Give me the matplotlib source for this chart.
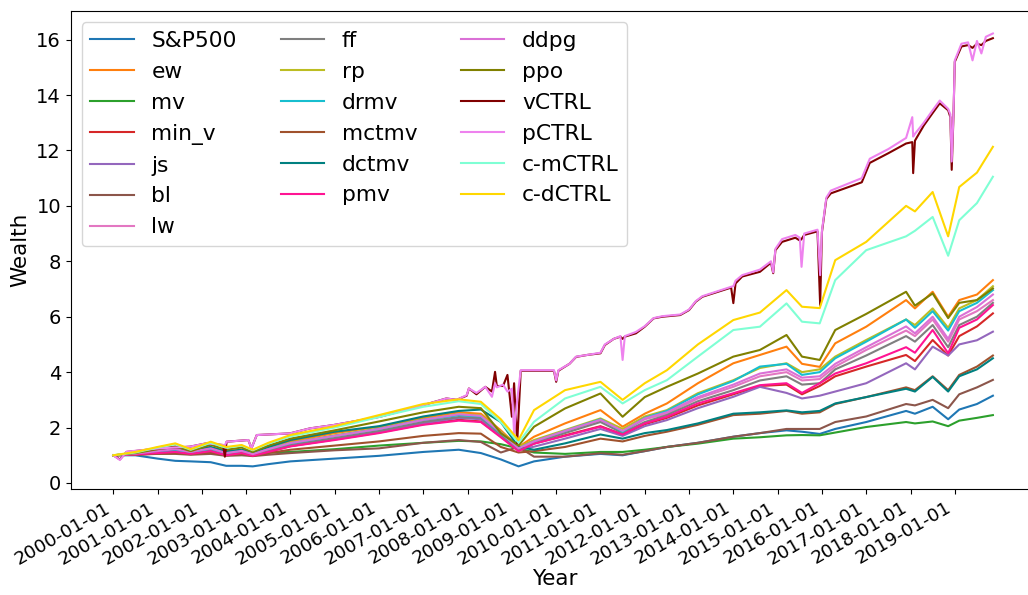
import matplotlib
matplotlib.use("Agg")
import matplotlib.pyplot as plt
import numpy as np

# x positions are in "tick units": tick i <-> label 2000+i-01-01
tick_labels = [f"{2000 + i}-01-01" for i in range(20)]

t_grid = [0, 0.5, 1.0, 1.4, 1.75, 2.2, 2.55, 2.9, 3.15, 3.5,
          4.0, 5.0, 6.0, 7.0, 7.8, 8.3, 8.75, 9.15, 9.5, 10.2,
          11.0, 11.5, 12.0, 12.5, 13.2, 14.0, 14.6, 15.2, 15.55, 15.95,
          16.3, 17.0, 17.9, 18.1, 18.5, 18.85, 19.1, 19.5, 19.86]

sp500 = [1.0, 1.0, 0.88, 0.8, 0.78, 0.75, 0.62, 0.62, 0.6, 0.68,
         0.78, 0.88, 0.98, 1.12, 1.2, 1.08, 0.85, 0.6, 0.78, 0.95,
         1.05, 1.0, 1.15, 1.3, 1.45, 1.67, 1.8, 1.9, 1.85, 1.77,
         1.95, 2.2, 2.6, 2.5, 2.75, 2.3, 2.65, 2.85, 3.15]
ew = [1.0, 1.05, 1.15, 1.22, 1.12, 1.28, 1.12, 1.2, 1.08, 1.28,
      1.5, 1.8, 2.03, 2.35, 2.55, 2.5, 1.9, 1.3, 1.67, 2.15,
      2.63, 2.03, 2.5, 2.87, 3.6, 4.32, 4.62, 4.92, 4.3, 4.19,
      5.04, 5.64, 6.6, 6.3, 6.9, 6.0, 6.6, 6.8, 7.32]
mv = [1.0, 1.03, 1.08, 1.1, 1.08, 1.12, 1.05, 1.08, 1.05, 1.1,
      1.12, 1.22, 1.35, 1.45, 1.52, 1.5, 1.4, 1.25, 1.1, 1.05,
      1.12, 1.12, 1.2, 1.3, 1.42, 1.6, 1.65, 1.72, 1.73, 1.72,
      1.82, 2.02, 2.2, 2.15, 2.22, 2.05, 2.25, 2.35, 2.45]
min_v = [1.0, 1.03, 1.1, 1.13, 1.06, 1.16, 1.02, 1.1, 1.0, 1.13,
         1.33, 1.57, 1.82, 2.12, 2.28, 2.22, 1.68, 1.18, 1.42, 1.72,
         2.05, 1.75, 2.12, 2.35, 2.8, 3.2, 3.5, 3.55, 3.2, 3.5,
         3.85, 4.2, 4.62, 4.4, 5.16, 4.6, 5.3, 5.65, 6.12]
js = [1.0, 1.05, 1.1, 1.15, 1.07, 1.18, 1.03, 1.1, 1.0, 1.15,
      1.35, 1.6, 1.85, 2.15, 2.35, 2.3, 1.7, 1.2, 1.31, 1.6,
      1.95, 1.7, 2.05, 2.27, 2.7, 3.11, 3.47, 3.25, 3.05, 3.15,
      3.3, 3.6, 4.32, 4.1, 4.92, 4.6, 5.0, 5.15, 5.46]
bl = [1.0, 1.02, 1.05, 1.05, 1.02, 1.05, 0.98, 1.0, 0.97, 1.02,
      1.08, 1.18, 1.25, 1.45, 1.55, 1.48, 1.1, 1.3, 0.95, 0.95,
      1.07, 1.02, 1.15, 1.3, 1.45, 1.67, 1.8, 1.95, 1.95, 1.95,
      2.2, 2.4, 2.85, 2.8, 3.0, 2.7, 3.2, 3.45, 3.72]
lw = [1.0, 1.06, 1.14, 1.2, 1.1, 1.22, 1.05, 1.15, 1.02, 1.2,
      1.42, 1.68, 1.93, 2.25, 2.45, 2.4, 1.8, 1.22, 1.48, 1.85,
      2.25, 1.85, 2.3, 2.5, 3.05, 3.47, 3.85, 4.0, 3.7, 3.75,
      4.2, 4.8, 5.5, 5.3, 5.9, 5.1, 5.9, 6.2, 6.6]
ff = [1.0, 1.04, 1.1, 1.16, 1.08, 1.2, 1.05, 1.12, 1.02, 1.18,
      1.38, 1.62, 1.88, 2.2, 2.38, 2.35, 1.75, 1.2, 1.45, 1.8,
      2.2, 1.8, 2.2, 2.45, 2.95, 3.35, 3.7, 3.85, 3.55, 3.6,
      4.1, 4.6, 5.3, 5.1, 5.7, 4.9, 5.7, 6.0, 6.5]
rp = [1.0, 1.04, 1.12, 1.2, 1.12, 1.25, 1.1, 1.18, 1.06, 1.25,
      1.45, 1.72, 1.97, 2.3, 2.48, 2.45, 1.85, 1.3, 1.55, 1.91,
      2.33, 1.95, 2.4, 2.63, 3.24, 3.71, 4.15, 4.32, 4.0, 4.1,
      4.56, 5.16, 5.9, 5.7, 6.3, 5.6, 6.3, 6.6, 7.1]
drmv = [1.0, 1.04, 1.12, 1.18, 1.1, 1.23, 1.08, 1.16, 1.05, 1.23,
        1.43, 1.7, 1.95, 2.28, 2.45, 2.4, 1.8, 1.25, 1.5, 1.88,
        2.3, 1.85, 2.35, 2.6, 3.2, 3.68, 4.2, 4.3, 3.9, 4.0,
        4.5, 5.1, 5.9, 5.6, 6.2, 5.5, 6.2, 6.5, 6.96]
mctmv = [1.0, 1.02, 1.06, 1.08, 1.04, 1.1, 1.0, 1.05, 0.98, 1.08,
         1.2, 1.35, 1.5, 1.7, 1.8, 1.78, 1.3, 1.1, 1.15, 1.3,
         1.6, 1.5, 1.7, 1.85, 2.1, 2.45, 2.5, 2.6, 2.5, 2.55,
         2.85, 3.1, 3.45, 3.35, 3.85, 3.35, 3.9, 4.2, 4.6]
dctmv = [1.0, 1.05, 1.15, 1.22, 1.2, 1.3, 1.15, 1.2, 1.12, 1.3,
         1.55, 1.85, 2.05, 2.4, 2.6, 2.65, 2.2, 1.3, 1.2, 1.43,
         1.75, 1.6, 1.8, 1.91, 2.15, 2.5, 2.55, 2.62, 2.55, 2.6,
         2.87, 3.1, 3.4, 3.3, 3.83, 3.3, 3.85, 4.1, 4.5]
pmv = [1.0, 1.03, 1.08, 1.12, 1.05, 1.15, 1.0, 1.08, 0.98, 1.12,
       1.32, 1.55, 1.8, 2.1, 2.25, 2.2, 1.65, 1.15, 1.42, 1.7,
       2.03, 1.75, 2.15, 2.39, 2.87, 3.24, 3.53, 3.6, 3.25, 3.6,
       3.95, 4.32, 4.9, 4.7, 5.52, 4.68, 5.6, 5.9, 6.42]
ddpg = [1.0, 1.06, 1.15, 1.22, 1.12, 1.25, 1.08, 1.16, 1.04, 1.22,
        1.44, 1.7, 1.95, 2.28, 2.48, 2.42, 1.82, 1.25, 1.5, 1.88,
        2.28, 1.88, 2.33, 2.55, 3.1, 3.55, 3.95, 4.1, 3.8, 3.85,
        4.3, 4.9, 5.65, 5.4, 6.0, 5.2, 6.0, 6.35, 6.8]
ppo = [1.0, 1.08, 1.22, 1.32, 1.15, 1.38, 1.2, 1.28, 1.12, 1.35,
       1.6, 1.9, 2.22, 2.55, 2.75, 2.7, 1.8, 1.35, 2.03, 2.69,
       3.23, 2.39, 3.1, 3.47, 3.95, 4.56, 4.8, 5.34, 4.56, 4.44,
       5.52, 6.1, 6.9, 6.4, 6.84, 5.95, 6.5, 6.6, 7.02]
c_mctrl = [1.0, 1.1, 1.28, 1.4, 1.2, 1.45, 1.27, 1.35, 1.18, 1.42,
           1.68, 2.0, 2.38, 2.75, 2.95, 2.85, 2.2, 1.45, 2.21, 3.05,
           3.47, 2.87, 3.35, 3.71, 4.56, 5.52, 5.64, 6.48, 5.82, 5.76,
           7.32, 8.4, 8.9, 9.1, 9.6, 8.2, 9.48, 10.1, 11.05]
c_dctrl = [1.0, 1.12, 1.3, 1.43, 1.22, 1.49, 1.3, 1.37, 1.2, 1.45,
           1.73, 2.05, 2.45, 2.85, 3.02, 2.93, 2.3, 1.55, 2.63, 3.35,
           3.65, 3.0, 3.6, 4.07, 5.0, 5.88, 6.15, 6.96, 6.36, 6.31,
           8.04, 8.7, 10.0, 9.8, 10.5, 8.9, 10.68, 11.2, 12.13]

# the two CTRL curves have their own (finer) time points
ctrl_t = [0, 0.15, 0.3, 1.05, 1.73, 2.1, 2.48, 2.52, 2.56, 3.05,
          3.12, 3.24, 3.99, 4.44, 4.97, 6.02, 7.0, 7.52, 7.75, 7.98,
          8.03, 8.2, 8.4, 8.55, 8.62, 8.66, 8.8, 8.9, 9.0, 9.05,
          9.12, 9.2, 9.95, 10.0, 10.05, 10.3, 10.45, 10.7, 11.0, 11.1,
          11.3, 11.45, 11.5, 11.55, 11.8, 12.0, 12.2, 12.4, 12.8, 13.0,
          13.15, 13.3, 13.95, 14.0, 14.05, 14.2, 14.6, 14.85, 14.9, 14.95,
          15.1, 15.4, 15.5, 15.54, 15.6, 15.9, 15.96, 16.0, 16.1, 16.2,
          16.9, 17.08, 17.5, 17.9, 18.04, 18.06, 18.1, 18.3, 18.5, 18.66,
          18.85, 18.9, 18.93, 18.97, 19.0, 19.15, 19.3, 19.4, 19.5, 19.6,
          19.7, 19.86]
vctrl = [1.0, 0.85, 1.12, 1.25, 1.31, 1.43, 1.37, 0.95, 1.49, 1.55,
         1.25, 1.73, 1.79, 1.97, 2.09, 2.39, 2.81, 3.05, 3.0, 3.15,
         3.41, 3.2, 3.47, 3.3, 4.01, 3.5, 3.5, 3.9, 2.39, 3.6,
         1.44, 4.05, 4.05, 3.65, 4.05, 4.3, 4.55, 4.62, 4.68, 4.98,
         5.2, 5.28, 5.2, 5.28, 5.4, 5.64, 5.94, 6.0, 6.06, 6.24,
         6.54, 6.72, 7.05, 6.49, 7.2, 7.45, 7.62, 7.95, 7.57, 8.4,
         8.7, 8.85, 8.75, 8.8, 8.95, 9.08, 6.42, 9.05, 10.25, 10.45,
         10.85, 11.55, 11.9, 12.25, 12.3, 11.18, 12.35, 12.9, 13.35, 13.7,
         13.45, 13.2, 11.3, 13.25, 15.2, 15.75, 15.8, 15.7, 15.85, 15.8,
         15.95, 16.05]
pctrl = [1.0, 0.83, 1.13, 1.25, 1.31, 1.43, 1.37, 1.37, 1.49, 1.55,
         1.25, 1.73, 1.79, 1.97, 2.09, 2.39, 2.81, 3.05, 3.0, 3.17,
         3.41, 3.25, 3.47, 3.11, 3.6, 3.45, 3.55, 3.3, 3.4, 1.8,
         3.0, 4.07, 4.07, 3.7, 4.07, 4.3, 4.56, 4.62, 4.7, 5.0,
         5.2, 5.3, 4.44, 5.3, 5.45, 5.66, 5.95, 6.02, 6.08, 6.26,
         6.56, 6.74, 7.08, 7.1, 7.3, 7.5, 7.7, 8.0, 7.6, 8.45,
         8.8, 8.95, 8.85, 7.8, 9.0, 9.14, 7.5, 9.1, 10.3, 10.55,
         11.0, 11.7, 12.05, 12.45, 13.2, 12.5, 12.6, 13.0, 13.45, 13.8,
         13.5, 13.3, 11.6, 13.3, 15.25, 15.85, 15.9, 15.25, 15.95, 15.5,
         16.1, 16.22]

series = [
    ("S&P500", sp500, "tab:blue"),
    ("ew", ew, "tab:orange"),
    ("mv", mv, "tab:green"),
    ("min_v", min_v, "tab:red"),
    ("js", js, "tab:purple"),
    ("bl", bl, "tab:brown"),
    ("lw", lw, "tab:pink"),
    ("ff", ff, "tab:gray"),
    ("rp", rp, "tab:olive"),
    ("drmv", drmv, "tab:cyan"),
    ("mctmv", mctmv, "sienna"),
    ("dctmv", dctmv, "teal"),
    ("pmv", pmv, "deeppink"),
    ("ddpg", ddpg, "orchid"),
    ("ppo", ppo, "olive"),
]

fig = plt.figure(figsize=(10.28, 5.95), dpi=100)
# the reference axes run slightly past the right edge of the image
ax = fig.add_axes([0.0688, 0.178, 0.941, 0.803])

for name, vals, col in series:
    ax.plot(t_grid, vals, color=col, label=name, lw=1.5)
ax.plot(ctrl_t, vctrl, color="maroon", label="vCTRL", lw=1.5)
ax.plot(ctrl_t, pctrl, color="violet", label="pCTRL", lw=1.5)
ax.plot(t_grid, c_mctrl, color="aquamarine", label="c-mCTRL", lw=1.5)
ax.plot(t_grid, c_dctrl, color="gold", label="c-dCTRL", lw=1.5)

ax.set_xlim(-0.96, 20.88)
ax.set_ylim(-0.22, 17.02)
ax.set_xticks(range(20))
ax.set_xticklabels(tick_labels, rotation=30, ha="right", fontsize=13.2)
ax.set_yticks(range(0, 17, 2))
ax.tick_params(axis="y", labelsize=14)
ax.set_xlabel("Year", fontsize=15.5, labelpad=1)
ax.set_ylabel("Wealth", fontsize=15.5)
ax.legend(loc="upper left", ncol=3, fontsize=15.7)

fig.savefig("out.png", dpi=100)
